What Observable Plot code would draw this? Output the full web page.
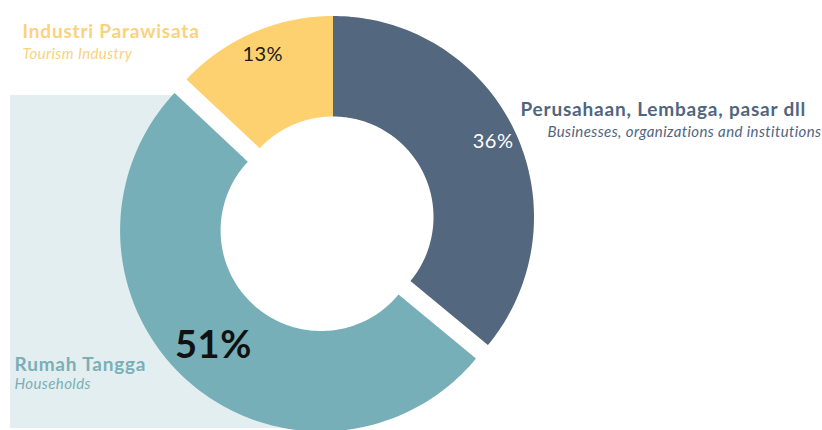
<!DOCTYPE html>
<html><head><meta charset="utf-8">
<script src="https://cdn.jsdelivr.net/npm/d3@7"></script>
<script src="https://cdn.jsdelivr.net/npm/@observablehq/plot@0.6"></script>
<style>
body{margin:0;background:#fff;}
#chart svg{display:block;}
#chart g[font-weight="bold"][font-size="19"] text{letter-spacing:0.8px;}
#chart g[font-style="italic"] text{letter-spacing:0.4px;}
#chart g[font-size="20"] text{letter-spacing:0.5px;}
#chart g[font-size="38"] text{letter-spacing:0.5px;}
</style>
</head><body><div id="chart"></div>
<script>
// ---- data ----
const categories = ["Perusahaan, Lembaga, pasar dll", "Rumah Tangga", "Industri Parawisata"];
const subLabels = ["Businesses, organizations and institutions", "Households", "Tourism Industry"];
const shares = [36, 51, 13];
const percentLabels = ["36%", "51%", "13%"];
const explodedCategory = "Rumah Tangga";

// ---- styles / layout ----
const colors = ["#53677f", "#76afb7", "#fdd170"];
const textColors = ["#50657f", "#7aafb6", "#fad27c"];
const W = 822, H = 430;
const CX = 332.5, CY = 216.5, R = 201;       // px: donut center & outer radius
const INNER = 0.5;                           // inner radius ratio
const EXPLODE = 18 / R;                      // offset of the exploded slice
const FONT = "Lato, 'DejaVu Sans', sans-serif";

const total = d3.sum(shares);
let acc = 0;
const slices = categories.map((c, i) => {
  const a0 = acc / total * 2 * Math.PI;
  acc += shares[i];
  const a1 = acc / total * 2 * Math.PI;
  const mid = (a0 + a1) / 2;
  const off = c === explodedCategory ? EXPLODE : 0;
  return {category: c, sub: subLabels[i], share: shares[i], label: percentLabels[i],
          a0, a1, mid, ox: off * Math.sin(mid), oy: off * Math.cos(mid), i};
});

const N = 120;
const ring = [];
for (const s of slices) {
  const outer = [], inner = [];
  for (let k = 0; k <= N; k++) {
    const t = s.a0 + (s.a1 - s.a0) * k / N;
    outer.push({category: s.category, x: s.ox + Math.sin(t), y: s.oy + Math.cos(t)});
    inner.push({category: s.category, x: s.ox + INNER * Math.sin(t), y: s.oy + INNER * Math.cos(t)});
  }
  ring.push(...outer, ...inner.reverse());
}

const maxShare = d3.max(shares);
const pct = slices.map(s => {
  const big = s.share === maxShare;
  const r = big ? 0.765 : 0.88;
  return {...s, big, lx: s.ox + r * Math.sin(s.mid), ly: s.oy + r * Math.cos(s.mid)};
});

const colorOf = c => colors[categories.indexOf(c)];
const tcolorOf = c => textColors[categories.indexOf(c)];

// label placement (px offsets from top-left of frame; y = text middle)
const labelPos = {
  "Industri Parawisata": {x: 22, y: 31, sx: 22, sy: 54, subAnchor: "start"},
  "Perusahaan, Lembaga, pasar dll": {x: 520, y: 109, sx: 821, sy: 132, subAnchor: "end"},
  "Rumah Tangga": {x: 14, y: 364, sx: 14, sy: 384, subAnchor: "start"}
};

const plot = Plot.plot({
  width: W, height: H,
  margin: 0,
  style: {background: "white", fontFamily: FONT},
  x: {domain: [-CX / R, (W - CX) / R], range: [0, W], axis: null},
  y: {domain: [-(H - CY) / R, CY / R], range: [H, 0], axis: null},
  marks: [
    // light background panel on the left
    Plot.rect([0], {x1: (10 - CX) / R, x2: 0, y1: (CY - 428) / R, y2: (CY - 95) / R, fill: "#e3eef0"}),
    // white disk behind the donut
    Plot.dot([0], {x: 0, y: 0, r: R, fill: "white", stroke: null}),
    // donut slices
    Plot.line(ring, {x: "x", y: "y", z: "category", fill: d => colorOf(d.category), stroke: null, curve: "linear-closed"}),
    // percentage labels
    Plot.text(pct.filter(d => !d.big), {x: "lx", y: "ly", text: "label", fontSize: 20,
      fill: d => d.category === categories[0] ? "white" : "#1a1a1a", fontFamily: FONT}),
    Plot.text(pct.filter(d => d.big), {x: "lx", y: "ly", text: "label", fontSize: 38, fontWeight: "bold",
      fill: "#111", fontFamily: FONT, dx: -6}),
    // category labels
    ...slices.map(s => Plot.text([s], {frameAnchor: "top-left", lineAnchor: "middle", text: "category",
      dx: labelPos[s.category].x, dy: labelPos[s.category].y, textAnchor: "start", fontSize: 19, fontWeight: "bold",
      fill: tcolorOf(s.category), fontFamily: FONT})),
    ...slices.map(s => Plot.text([s], {frameAnchor: "top-left", lineAnchor: "middle", text: "sub",
      dx: labelPos[s.category].sx, dy: labelPos[s.category].sy, textAnchor: labelPos[s.category].subAnchor,
      fontSize: 15, fontStyle: "italic", fill: tcolorOf(s.category), fontFamily: FONT}))
  ]
});
document.getElementById("chart").append(plot);
</script>
</body></html>
